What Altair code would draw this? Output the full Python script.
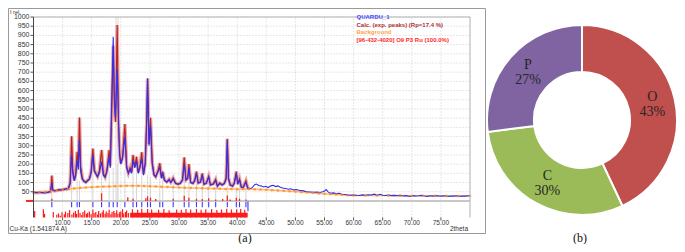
import altair as alt
import pandas as pd

# ---------------- XRD pattern (2theta, intensity) ----------------
tt_main = [5.0, 5.5, 6.0, 6.5, 7.0, 7.5, 7.9, 8.05, 8.15, 8.3,
           8.6, 9.0, 9.4, 9.8, 10.2, 10.6, 11.0, 11.3, 11.55, 11.75,
           12.0, 12.25, 12.5, 12.7, 12.9, 13.1, 13.4, 13.7, 14.0, 14.3,
           14.6, 14.9, 15.2, 15.45, 15.7, 16.0, 16.3, 16.7, 17.0, 17.3,
           17.6, 18.0, 18.2, 18.45, 18.7, 18.9, 19.1, 19.38, 19.6, 19.8,
           20.0, 20.3, 20.7, 21.0, 21.3, 21.6, 21.85, 22.1, 22.4, 22.7,
           23.0, 23.3, 23.6, 23.9, 24.2, 24.45, 24.6, 24.85, 25.1, 25.4,
           25.7, 26.0, 26.4, 26.7, 27.0, 27.2, 27.5, 27.9, 28.3, 28.6,
           29.0, 29.4, 29.8, 30.2, 30.6, 30.9, 31.2, 31.5, 31.7, 32.0,
           32.4, 32.7, 33.0, 33.3, 33.7, 34.0, 34.3, 34.7, 35.1, 35.4,
           35.9, 36.3, 36.6, 37.0, 37.4, 37.8, 38.1, 38.3, 38.5, 38.8,
           39.2, 39.5, 39.85, 40.1, 40.4, 40.7, 41.0, 41.5, 41.8, 42.1]
obs_main = [48, 46, 47, 45, 44, 47, 52, 70, 100, 60,
            56, 58, 62, 59, 63, 66, 68, 95, 250, 150,
            110, 135, 220, 170, 330, 160, 118, 105, 100, 110,
            118, 150, 250, 160, 148, 130, 152, 214, 140, 128,
            158, 240, 180, 560, 892, 560, 450, 719, 450, 250,
            200, 232, 350, 180, 150, 172, 150, 220, 180, 215,
            150, 182, 230, 140, 200, 450, 665, 300, 410, 200,
            140, 130, 160, 180, 122, 150, 112, 102, 115, 100,
            120, 96, 90, 95, 112, 200, 112, 122, 180, 100,
            95, 110, 150, 96, 102, 140, 90, 96, 130, 86,
            92, 110, 80, 96, 86, 95, 120, 330, 120, 86,
            80, 95, 150, 90, 115, 75, 72, 100, 70, 68]
calc_main = [46, 45, 46, 46, 46, 48, 50, 85, 138, 60,
             55, 57, 60, 61, 63, 65, 68, 100, 352, 170,
             112, 150, 267, 190, 453, 190, 120, 108, 102, 112,
             120, 160, 285, 170, 150, 132, 160, 277, 150, 130,
             165, 277, 190, 500, 843, 520, 430, 957, 420, 260,
             205, 240, 418, 190, 152, 180, 155, 250, 185, 240,
             155, 190, 265, 145, 210, 420, 665, 310, 452, 210,
             145, 132, 165, 205, 125, 160, 115, 104, 118, 102,
             125, 97, 92, 96, 115, 237, 115, 125, 200, 102,
             96, 112, 160, 98, 104, 150, 92, 98, 135, 88,
             93, 118, 82, 97, 88, 96, 125, 338, 125, 88,
             82, 98, 160, 92, 120, 76, 73, 110, 71, 68]
tt_tail = [42.5, 43.0, 43.3, 43.7, 44.1, 44.5, 44.9, 45.3, 45.8, 46.2,
           46.6, 47.0, 47.4, 47.8, 48.3, 48.8, 49.2, 49.7, 50.2, 50.7,
           51.2, 51.7, 52.2, 52.7, 53.2, 53.7, 54.2, 54.7, 55.0, 55.3,
           55.6, 56.0, 56.5, 57.0, 57.5, 58.0, 58.5, 59.0, 59.5, 60.0,
           60.5, 61.0, 61.5, 62.0, 62.5, 63.0, 63.6, 64.0, 64.6, 65.0,
           65.5, 66.0, 66.5, 67.0, 67.5, 68.0, 68.5, 69.0, 69.7, 70.2,
           70.7, 71.2, 71.7, 72.2, 72.7, 73.2, 73.7, 74.2, 74.7, 75.2,
           75.7, 76.2, 76.7, 77.2, 77.7, 78.2, 78.7, 79.2, 79.6, 80.0]
obs_tail = [70, 88, 92, 84, 82, 76, 80, 73, 82, 85,
            78, 82, 75, 70, 68, 64, 66, 60, 62, 57,
            56, 52, 50, 49, 47, 48, 46, 50, 54, 62,
            49, 42, 44, 40, 42, 36, 35, 33, 31, 33,
            31, 30, 33, 31, 34, 32, 37, 31, 36, 31,
            30, 32, 29, 30, 28, 30, 27, 29, 24, 29,
            27, 28, 30, 27, 25, 28, 26, 29, 27, 26,
            28, 25, 27, 26, 28, 25, 27, 26, 28, 29]
bg_tt = [5, 6, 7, 8, 9, 10, 11, 12, 13, 14, 15, 16, 17, 18, 19, 20, 21, 22,
         23, 24, 25, 26, 27, 28, 29, 30, 31, 32, 33, 34, 35, 36, 37, 38, 39,
         40, 41, 42, 43, 44, 45, 46, 47, 48, 49, 50, 51, 52, 53, 54, 55, 56,
         57, 58, 59, 60, 62, 64, 66, 68, 70, 72, 74, 76, 78, 80]
bg_int = [45, 47, 50, 53, 57, 60, 64, 68, 71, 73, 75, 77, 78, 79, 80, 81, 82, 82,
          82, 81, 80, 79, 77, 76, 74, 73, 72, 71, 70, 69, 68, 67, 66, 65, 65,
          64, 64, 64, 63, 62, 61, 59, 57, 55, 53, 51, 48, 46, 44, 41, 39, 37,
          35, 33, 31, 30, 30, 29, 29, 29, 28, 28, 28, 27, 27, 27]

# peak positions (blue markers) and the grey sticks above them
peak_pos = [8.15, 11.55, 12.5, 12.9, 15.2, 16.7, 18.0, 18.7, 19.38, 20.7,
            22.1, 22.7, 23.6, 24.6, 25.1, 26.7, 27.2, 29.0, 30.9, 31.7,
            33.0, 34.0, 35.1, 36.3, 38.3, 39.85, 40.4, 41.5]
peak_stick = [55, 100, 120, 110, 150, 140, 160, 180, 200, 170,
              150, 150, 140, 140, 130, 120, 110, 95, 95, 100,
              90, 85, 80, 75, 80, 75, 70, 68]
long_marker_pos = [41.85]

# reference pattern [96-432-4020]: intensities on the pattern
refint_pos = [8.15, 16.7, 21.2, 22.1, 24.3, 24.6, 25.1, 26.0, 29.0, 30.9,
              31.7, 33.0, 34.0, 35.1, 36.3, 37.5, 38.3, 38.8, 39.85, 40.4, 41.5]
refint_val = [12, 42, 20, 12, 15, 25, 18, 10, 12, 28,
              18, 12, 10, 14, 8, 10, 30, 8, 18, 12, 8]
# reference pattern bars below the zero line
ref_pos = [5.2, 6.7, 6.9, 8.4, 9.0, 9.3, 9.6, 9.9, 10.3, 10.5,
           10.9, 11.2, 11.6, 11.9, 12.2, 12.4, 12.7, 13.0, 13.3, 13.5,
           13.8, 14.1, 14.3, 14.6, 14.9, 15.2, 15.4, 15.7, 16.0, 16.2,
           16.5, 16.8, 17.0, 17.3, 17.5, 17.8, 18.0, 18.3, 18.5, 18.8,
           19.0, 19.3, 19.5, 19.8, 20.0, 20.3, 20.5, 20.8, 21.0, 21.3]
ref_top = [-55, -45, -70, -60, -75, -68, -80, -62, -72, -58,
           -66, -50, -74, -63, -55, -70, -48, -66, -76, -60,
           -52, -70, -64, -58, -72, -46, -66, -60, -74, -55,
           -68, -62, -50, -70, -58, -65, -48, -72, -60, -55,
           -66, -50, -70, -62, -58, -45, -68, -60, -52, -66]
block_start = [21.6]
block_end = [41.8]
block_top = [-64]
spike_pos = [22.0, 22.9, 23.6, 24.6, 25.3, 26.5, 27.4, 28.3, 29.6, 30.4,
             31.2, 32.0, 33.0, 33.8, 34.6, 35.6, 36.5, 37.3, 38.2, 39.0,
             39.9, 40.6, 41.3]
spike_top = [-45, -48, -42, -44, -46, -48, -44, -50, -46, -48,
             -44, -47, -43, -48, -45, -44, -49, -46, -43, -47,
             -45, -44, -48]
cursor_pos = [19.35]

x_ticks = [10, 15, 20, 25, 30, 35, 40, 45, 50, 55, 60, 65, 70, 75]
y_ticks = list(range(50, 1001, 50))

legend_lines = ["QUARDU_1", "Calc. (exp. peaks) (Rp=17.4 %)", "Background",
                "[96-432-4020] O9 P3 Ru  (100.0%)"]
legend_colors = ["#4b4bff", "#b03030", "#ffa347", "#ff2a2a"]
legend_y = [11, 18.5, 26, 33.5]

# ---------------- composition donut ----------------
elements = ["O", "C", "P"]
shares = [43, 30, 27]
el_colors = ["#C0504D", "#9BBB59", "#8064A2"]

# ---------------- build ----------------
X0, X1 = 5, 80
Y0, Y1 = -90, 1000
xs = alt.Scale(domain=[X0, X1], range=[25.5, 462], nice=False, zero=False)
ys = alt.Scale(domain=[Y0, Y1], range=[209.5, 9], nice=False, zero=False)


def X(f):
    return alt.X(f, type="quantitative", scale=xs, axis=None)


def Y(f):
    return alt.Y(f, type="quantitative", scale=ys, axis=None)


def df(**cols):
    return pd.DataFrame(cols)


one = df(a=[0])
obs_df = df(tt=tt_main + tt_tail, v=obs_main + obs_tail)
calc_df = df(tt=tt_main, v=calc_main)
bg_df = df(tt=bg_tt, v=bg_int)
peaks_df = df(tt=peak_pos, h=peak_stick, z=[0] * len(peak_pos),
              m1=[-6] * len(peak_pos), m2=[-34] * len(peak_pos))
long_df = df(tt=long_marker_pos, m1=[-2], m2=[-56])
refint_df = df(tt=refint_pos, v=refint_val, z=[0] * len(refint_pos))
ref_df = df(tt=ref_pos, top=ref_top, lo=[Y0] * len(ref_pos))
block_df = df(s=block_start, e=block_end, top=block_top, lo=[Y0])
spike_df = df(tt=spike_pos, top=spike_top, lo=[Y0] * len(spike_pos))
cursor_df = df(tt=cursor_pos, lo=[0], hi=[Y1])
xt_df = df(v=x_ticks, lab=[f"{t:.2f}" for t in x_ticks],
           lo=[Y0] * len(x_ticks), hi=[Y1] * len(x_ticks))
yt_df = df(v=y_ticks, lab=[str(t) for t in y_ticks],
           lo=[X0] * len(y_ticks), hi=[X1] * len(y_ticks))
hline_df = df(y=[0, Y1], lo=[X0, X0], hi=[X1, X1])
vline_df = df(x=[X0, X1], lo=[Y0, Y0], hi=[Y1, Y1])
zero_df = df(z=[0])
pie_df = df(el=elements, share=shares, pct=[f"{s}%" for s in shares], idx=[0, 1, 2])

FONT = "Liberation Sans"
SERIF = "Liberation Serif"

L = []
L.append(alt.Chart(one).mark_rect(fill="white", stroke="#9a9a9a", strokeWidth=1).encode(
    x=alt.value(0.5), x2=alt.value(477.5), y=alt.value(0.5), y2=alt.value(225.5)))
L.append(alt.Chart(cursor_df).mark_rule(color="#ececec", strokeWidth=4).encode(
    x=X("tt"), y=Y("lo"), y2=alt.Y2("hi")))
L.append(alt.Chart(xt_df).mark_rule(color="#cfcfcf", strokeDash=[1, 2]).encode(
    x=X("v"), y=Y("lo"), y2=alt.Y2("hi")))
L.append(alt.Chart(yt_df).mark_rule(color="#cfcfcf", strokeDash=[1, 2]).encode(
    y=Y("v"), x=X("lo"), x2=alt.X2("hi")))
L.append(alt.Chart(peaks_df).mark_rule(color="#d6d6d6", strokeWidth=1).encode(
    x=X("tt"), y=Y("z"), y2=alt.Y2("h")))
L.append(alt.Chart(hline_df.iloc[[0]]).mark_rule(color="#c8c8c8", strokeWidth=2).encode(
    y=Y("y"), x=X("lo"), x2=alt.X2("hi")))
L.append(alt.Chart(zero_df).mark_rule(color="#ff2020", strokeWidth=2).encode(
    y=Y("z"), x=alt.value(18), x2=alt.value(25.5)))
L.append(alt.Chart(bg_df).mark_line(color="#ffb866", strokeWidth=1.5).encode(
    x=X("tt"), y=Y("v")))
L.append(alt.Chart(calc_df).mark_line(color="#e8a6a6", strokeWidth=3.5).encode(
    x=X("tt"), y=Y("v")))
L.append(alt.Chart(calc_df).mark_line(color="#b52222", strokeWidth=1.1).encode(
    x=X("tt"), y=Y("v")))
L.append(alt.Chart(obs_df).mark_line(color="#2f2ff0", strokeWidth=1.1).encode(
    x=X("tt"), y=Y("v")))
L.append(alt.Chart(bg_df).mark_point(color="#ff8a1c", filled=True, size=6, shape="square").encode(
    x=X("tt"), y=Y("v")))
L.append(alt.Chart(refint_df).mark_rule(color="#ff2020", strokeWidth=1.3).encode(
    x=X("tt"), y=Y("z"), y2=alt.Y2("v")))
L.append(alt.Chart(peaks_df).mark_rule(color="#3a3aff", strokeWidth=1.1).encode(
    x=X("tt"), y=Y("m1"), y2=alt.Y2("m2")))
L.append(alt.Chart(long_df).mark_rule(color="#3a3aff", strokeWidth=1.1).encode(
    x=X("tt"), y=Y("m1"), y2=alt.Y2("m2")))
L.append(alt.Chart(ref_df).mark_rule(color="#ff1a1a", strokeWidth=1.2).encode(
    x=X("tt"), y=Y("lo"), y2=alt.Y2("top")))
L.append(alt.Chart(block_df).mark_rect(color="#ff1a1a").encode(
    x=X("s"), x2=alt.X2("e"), y=Y("lo"), y2=alt.Y2("top")))
L.append(alt.Chart(spike_df).mark_rule(color="#ff1a1a", strokeWidth=1.2).encode(
    x=X("tt"), y=Y("lo"), y2=alt.Y2("top")))
# plot borders and axes
L.append(alt.Chart(hline_df.iloc[[1]]).mark_rule(color="#b0b0b0").encode(
    y=Y("y"), x=X("lo"), x2=alt.X2("hi")))
L.append(alt.Chart(vline_df.iloc[[1]]).mark_rule(color="#b0b0b0").encode(
    x=X("x"), y=Y("lo"), y2=alt.Y2("hi")))
L.append(alt.Chart(vline_df.iloc[[0]]).mark_rule(color="#444444").encode(
    x=X("x"), y=Y("lo"), y2=alt.Y2("hi")))
L.append(alt.Chart(yt_df).mark_rule(color="#555555").encode(
    y=Y("v"), x=alt.value(22.5), x2=alt.value(25.5)))
L.append(alt.Chart(yt_df).mark_text(font=FONT, fontSize=7, color="#333333", align="right", baseline="middle").encode(
    y=Y("v"), x=alt.value(21.5), text="lab:N"))
L.append(alt.Chart(xt_df).mark_rule(color="#555555").encode(
    x=X("v"), y=alt.value(209.5), y2=alt.value(212.5)))
L.append(alt.Chart(xt_df).mark_text(font=FONT, fontSize=6.5, color="#333333", align="center", baseline="middle").encode(
    x=X("v"), y=alt.value(215), text="lab:N"))
# texts
L.append(alt.Chart(one).mark_text(text="I rel.", font=FONT, fontSize=5.5, color="#333333", align="left", baseline="alphabetic").encode(
    x=alt.value(2), y=alt.value(5.5)))
L.append(alt.Chart(one).mark_text(text="Cu-Ka (1.541874 A)", font=FONT, fontSize=6.5, color="#333333", align="left", baseline="alphabetic").encode(
    x=alt.value(1.5), y=alt.value(223)))
L.append(alt.Chart(one).mark_text(text="2theta", font=FONT, fontSize=6.5, color="#333333", align="right", baseline="alphabetic").encode(
    x=alt.value(460), y=alt.value(223)))
for txt, col, yy in zip(legend_lines, legend_colors, legend_y):
    L.append(alt.Chart(one).mark_text(text=txt, font=FONT, fontSize=6, fontWeight="bold", color=col,
                                      align="left", baseline="alphabetic").encode(
        x=alt.value(348.5), y=alt.value(yy)))
L.append(alt.Chart(one).mark_text(text="(a)", font=SERIF, fontSize=12, color="#111111", align="center", baseline="alphabetic").encode(
    x=alt.value(237), y=alt.value(233.5)))
L.append(alt.Chart(one).mark_text(text="(b)", font=SERIF, fontSize=12, color="#111111", align="center", baseline="alphabetic").encode(
    x=alt.value(572), y=alt.value(233.5)))
# donut
CX, CY = 574, 112
L.append(alt.Chart(pie_df).mark_arc(innerRadius=48, outerRadius=95, stroke="white", strokeWidth=2).encode(
    theta=alt.Theta("share:Q", stack=True),
    color=alt.Color("el:N", scale=alt.Scale(domain=elements, range=el_colors), legend=None),
    order=alt.Order("idx:Q"),
    x=alt.value(CX), y=alt.value(CY)))
L.append(alt.Chart(pie_df).mark_text(radius=72, font=SERIF, fontSize=14, color="#262626", dy=-7.5, baseline="middle").encode(
    theta=alt.Theta("share:Q", stack=True), detail="el:N", order=alt.Order("idx:Q"),
    text="el:N", x=alt.value(CX), y=alt.value(CY)))
L.append(alt.Chart(pie_df).mark_text(radius=72, font=SERIF, fontSize=14, color="#262626", dy=7.5, baseline="middle").encode(
    theta=alt.Theta("share:Q", stack=True), detail="el:N", order=alt.Order("idx:Q"),
    text="pct:N", x=alt.value(CX), y=alt.value(CY)))

chart = alt.layer(*L).properties(
    width=669, height=236,
    autosize=alt.AutoSizeParams(type="none"),
    padding=0,
).configure_view(stroke=None)

chart.save("out.html", embed_options={"renderer": "svg", "actions": False})
